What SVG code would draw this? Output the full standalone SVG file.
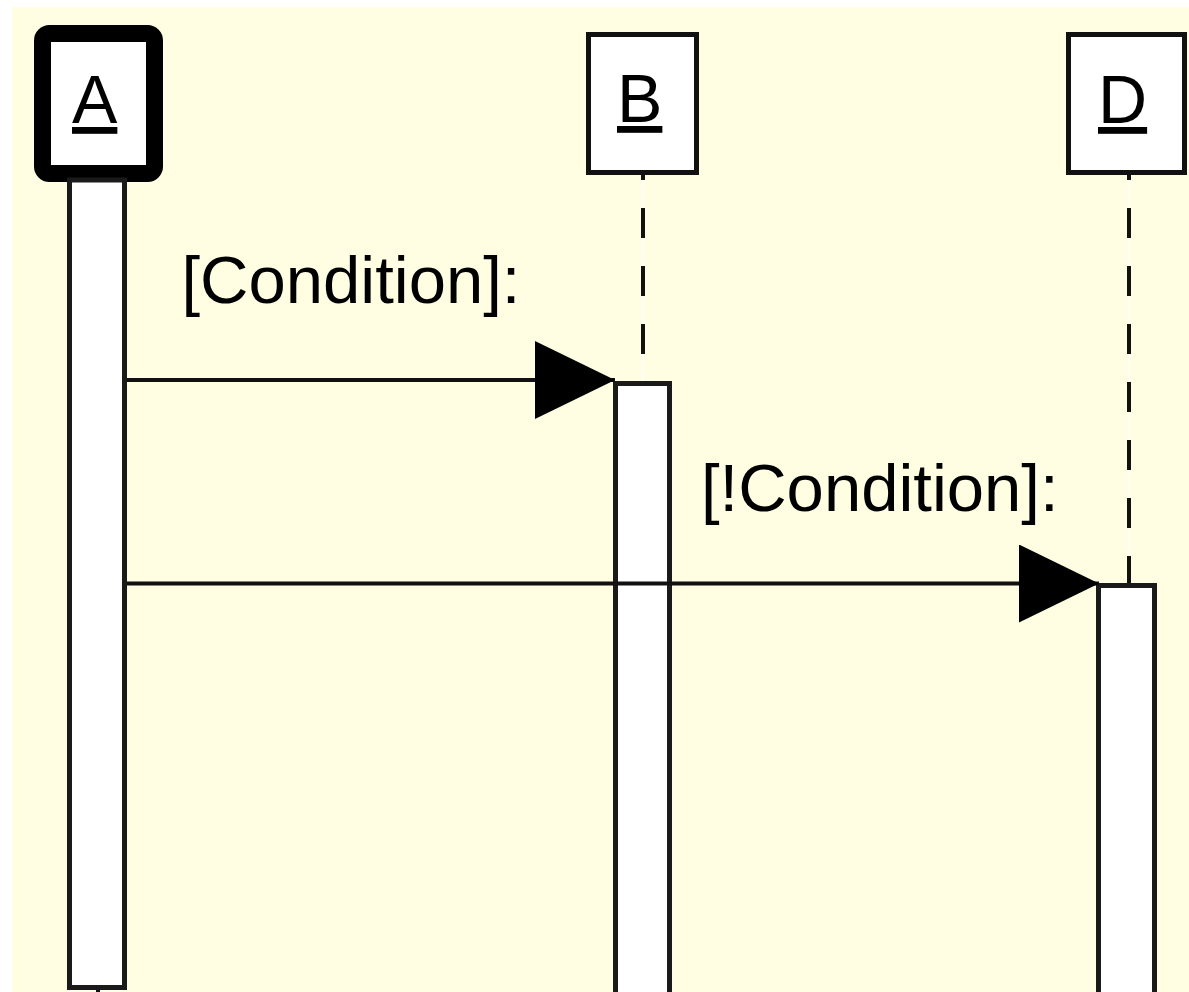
<svg xmlns="http://www.w3.org/2000/svg" width="1189" height="992" viewBox="0 0 1189 992">
  <defs>
    <style>
      .bg { fill: #fffee3; }
      .head { fill: #ffffff; stroke: #111111; stroke-width: 5; }
      .headA { fill: #ffffff; stroke: #000000; stroke-width: 17; }
      .bar { fill: #ffffff; stroke: #1a1a1a; stroke-width: 5; }
      .name { font-family: "Liberation Sans", Arial, sans-serif; font-size: 68px; fill: #000000; text-decoration: underline; }
      .label { font-family: "Liberation Sans", Arial, sans-serif; font-size: 67px; fill: #000000; }
      .life { stroke: #111111; stroke-width: 4; stroke-dasharray: 30 28; fill: none; }
      .lifeBack { stroke: #ffffff; stroke-width: 1.5; fill: none; }
      .msg { stroke: #111111; stroke-width: 4; fill: none; marker-end: url(#arrow); }
    </style>
    <marker id="arrow" markerUnits="userSpaceOnUse" markerWidth="82" markerHeight="80" refX="80" refY="39" orient="auto" viewBox="0 0 82 80">
      <path d="M0,0 L80,39 L0,78 Z" fill="#000000"/>
    </marker>
  </defs>

  <rect class="bg" x="12" y="7" width="1177" height="985"/>

  <g id="lifelines">
    <line class="lifeBack" x1="643" y1="175" x2="643" y2="382"/>
    <line class="life" x1="643" y1="150" x2="643" y2="382"/>
    <line class="lifeBack" x1="1129" y1="175" x2="1129" y2="585"/>
    <line class="life" x1="1129" y1="150" x2="1129" y2="585"/>
    <line x1="98" y1="987" x2="98" y2="992" stroke="#111111" stroke-width="4"/>
  </g>

  <g id="node-A">
    <rect class="headA" x="42.5" y="33.5" width="112" height="140" rx="7"/>
    <text class="name" x="72" y="123">A</text>
  </g>
  <g id="node-B">
    <rect class="head" x="588.5" y="34.5" width="108" height="138"/>
    <text class="name" x="617" y="122">B</text>
  </g>
  <g id="node-D">
    <rect class="head" x="1068.5" y="34.5" width="116" height="138"/>
    <text class="name" x="1098" y="123">D</text>
  </g>

  <g id="activations">
    <rect id="act-A" class="bar" x="69.5" y="180" width="55" height="807.5"/>
    <rect id="act-B" class="bar" x="615.5" y="383.5" width="54" height="620"/>
    <rect id="act-D" class="bar" x="1098.5" y="585.5" width="56" height="420"/>
  </g>

  <g id="connectors">
    <line class="msg" x1="127" y1="380" x2="615" y2="380"/>
    <line class="msg" x1="127" y1="583.5" x2="1099" y2="583.5"/>
  </g>

  <g id="labels">
    <text class="label" x="181.5" y="303">[Condition]:</text>
    <text class="label" x="701" y="511">[!Condition]:</text>
  </g>
</svg>
